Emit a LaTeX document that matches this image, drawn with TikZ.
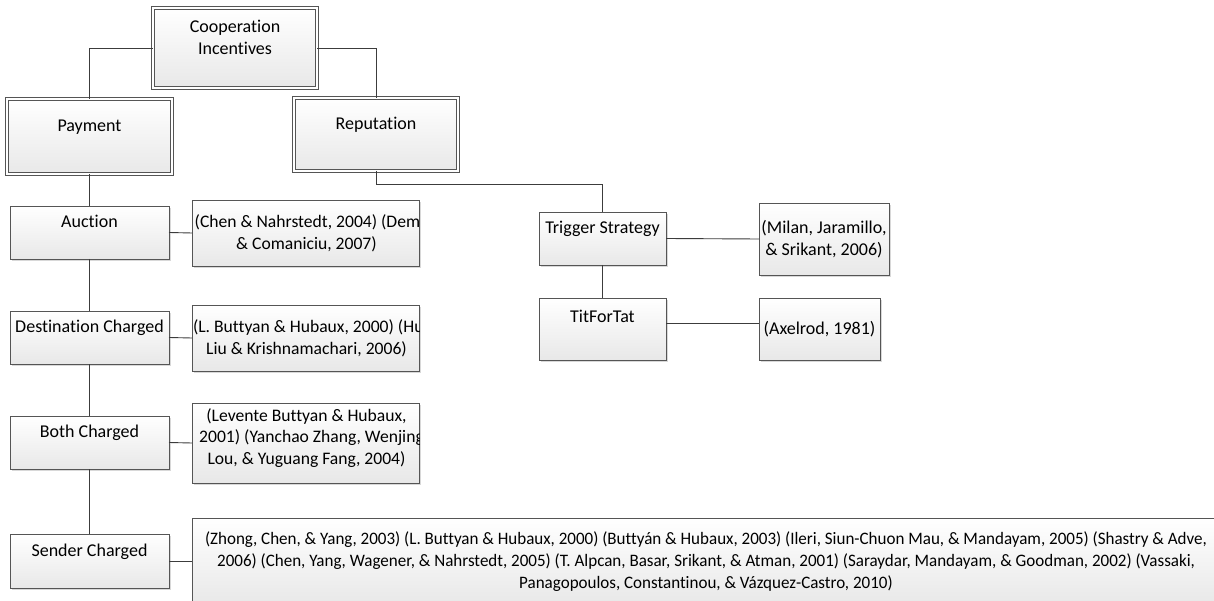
\documentclass[tikz,border=0pt]{standalone}
\usepackage{fontspec}
\setmainfont{Carlito}[Ligatures={NoCommon}]
\usepackage{graphicx}
\usetikzlibrary{shadows}
\definecolor{bord}{RGB}{85,85,85}
\definecolor{connc}{RGB}{60,60,60}
\definecolor{shd}{RGB}{232,232,232}
\newsavebox\lineAbox
\newdimen\lineAwd
\newcommand\boxfont{\fontsize{18}{21.7}\selectfont}
\newcommand\reffont{\fontsize{17.6}{21.7}\selectfont}
\newcommand\smallboxfont{\fontsize{17.5}{22}\selectfont}
\tikzset{
  box/.style={draw=bord, line width=0.9pt, top color=white, bottom color=shd,
    drop shadow={shadow xshift=2pt, shadow yshift=-2pt, fill=black!30, opacity=0.5},
    inner sep=0pt, outer sep=0pt, align=center, font=\boxfont, text=black},
  dbox/.style={box, double=white, double distance=2.2pt},
  txt/.style={inner sep=0pt, outer sep=0pt, align=center, font=\reffont, text=black},
  conn/.style={draw=connc, line width=0.9pt},
}
\begin{document}
\begin{tikzpicture}[x=1pt,y=-1pt]
\useasboundingbox (0,0) rectangle (1214,601);
\fill[white] (0,0) rectangle (1214,601);

% top level
\node[dbox, minimum width=164pt, minimum height=80pt] (coop) at (235,48) {Cooperation\\Incentives\\\mbox{}};
\node[dbox, minimum width=165pt, minimum height=75pt] (pay) at (89.5,136.5) {Payment\\\mbox{}};
\node[dbox, minimum width=164pt, minimum height=73pt] (rep) at (376,134.5) {Reputation\\\mbox{}};

% payment branch
\node[box, minimum width=159pt, minimum height=53pt] (auc) at (89.5,232.5) {Auction\\\mbox{}};
\node[box, minimum width=159pt, minimum height=53pt] (dst) at (89.5,337.5) {Destination Charged\\\mbox{}};
\node[box, minimum width=159pt, minimum height=53pt] (both) at (89.5,442.5) {Both Charged\\\mbox{}};
\node[box, minimum width=159pt, minimum height=54pt] (snd) at (89.5,561) {Sender Charged\\\mbox{}};

\node[box, minimum width=227pt, minimum height=66pt] (aucr) at (305.5,233) {};
\begin{scope}
\clip (aucr.south west) rectangle (aucr.north east);
\node[txt] (aucrt) at ([xshift=7pt]aucr.center) {(Chen \& Nahrstedt, 2004) (Demir\\\hspace*{-12pt}\& Comaniciu, 2007)};
\end{scope}

\node[box, minimum width=227pt, minimum height=66pt] (dstr) at (305.5,338) {};
\begin{scope}
\clip (dstr.south west) rectangle (dstr.north east);
\node[txt] (dstrt) at ([xshift=7pt]dstr.center) {(L. Buttyan \& Hubaux, 2000) (Hua\\\hspace*{-12pt}Liu \& Krishnamachari, 2006)};
\end{scope}

\node[box, minimum width=227pt, minimum height=80pt] (bothr) at (305.5,443) {};
\begin{scope}
\clip (bothr.south west) rectangle (bothr.north east);
\node[txt] (bothrt) at ([xshift=6pt,yshift=5pt]bothr.center) {\hspace*{-10pt}(Levente Buttyan \& Hubaux,\\2001) (Yanchao Zhang, Wenjing\\\hspace*{-10pt}Lou, \& Yuguang Fang, 2004)};
\end{scope}

\node[box, minimum width=1028pt, minimum height=87pt] (sndr) at (706,561.5) {};
\node[inner sep=0pt, outer sep=0pt, text=black] (sndrt) at (706,562) {\smallboxfont
  \sbox\lineAbox{(Zhong, Chen, \& Yang, 2003) (L. Buttyan \& Hubaux, 2000) (Buttyán \& Hubaux, 2003) (Ileri, Siun-Chuon Mau, \& Mandayam, 2005) (Shastry \& Adve,}%
  \lineAwd=\wd\lineAbox
  \pgfmathsetmacro\cfac{1002/\lineAwd}%
  \scalebox{\cfac}[1]{\begin{tabular}{@{}c@{}}
  (Zhong, Chen, \& Yang, 2003) (L. Buttyan \& Hubaux, 2000) (Buttyán \& Hubaux, 2003) (Ileri, Siun-Chuon Mau, \& Mandayam, 2005) (Shastry \& Adve,\\
  2006) (Chen, Yang, Wagener, \& Nahrstedt, 2005) (T. Alpcan, Basar, Srikant, \& Atman, 2001) (Saraydar, Mandayam, \& Goodman, 2002) (Vassaki,\\
  Panagopoulos, Constantinou, \& Vázquez-Castro, 2010)
  \end{tabular}}};

% reputation branch
\node[box, minimum width=127pt, minimum height=53pt] (trig) at (602.5,238.5) {Trigger Strategy\\\mbox{}};
\node[box, minimum width=127pt, minimum height=62pt] (tft) at (602.5,329) {TitForTat\\[3pt]\mbox{}};
\node[box, minimum width=130pt, minimum height=72pt] (milan) at (824,239) {(Milan, Jaramillo,\\\& Srikant, 2006)};
\node[box, minimum width=121pt, minimum height=62pt] (axel) at (819.5,329) {(Axelrod, 1981)};

\coordinate (repdrop) at (376,184);

% connectors
\draw[conn] (coop.west) -| (pay.north);
\draw[conn] (coop.east) -| (rep.north);
\draw[conn] (pay.south) -- (auc.north);
\draw[conn] (auc.south) -- (dst.north);
\draw[conn] (dst.south) -- (both.north);
\draw[conn] (both.south) -- (snd.north);
\draw[conn] (auc.east) -- (aucr.west);
\draw[conn] (dst.east) -- (dstr.west);
\draw[conn] (both.east) -- (bothr.west);
\draw[conn] (snd.east) -- (snd.east -| sndr.west);
\draw[conn] (rep.south) -- (repdrop) -| (trig.north);
\draw[conn] (trig.south) -- (tft.north);
\draw[conn] (trig.east) -- (milan.west);
\draw[conn] ([yshift=6pt]tft.east) -- ([yshift=6pt]tft.east -| axel.west);
\end{tikzpicture}
\end{document}
